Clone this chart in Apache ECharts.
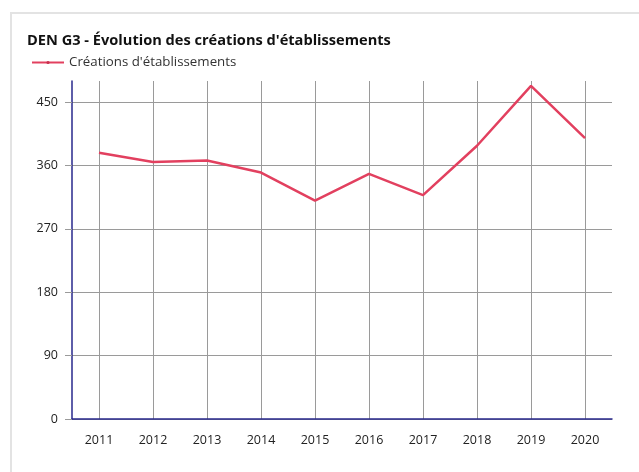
<!DOCTYPE html>
<html>
<head>
<meta charset="utf-8">
<script src="https://cdn.jsdelivr.net/npm/echarts@6/dist/echarts.min.js"></script>
<style>
  html, body { margin: 0; padding: 0; background: #fff; }
  .frame {
    position: absolute; left: 10px; top: 12px; right: -20px; bottom: -20px;
    border: 2px solid #e3e3e3;
  }
  #chart { position: absolute; left: 0; top: 0; width: 639px; height: 472px; }
</style>
</head>
<body>
<div class="frame"></div>
<div id="chart"></div>
<script>
// années
const years = ['2011', '2012', '2013', '2014', '2015', '2016', '2017', '2018', '2019', '2020']
// créations d'établissements
const creations = [378, 365, 367, 350, 310, 348, 318, 388, 473, 399]

const axisColor = '#28288c'
const gridColor = '#9a9a9a'
const font = "'Open Sans', 'Noto Sans', sans-serif"

const chart = echarts.init(document.getElementById('chart'))

const option = {
  animation: false,
  textStyle: { fontFamily: font },
  title: {
    text: "DEN G3 - Évolution des créations d'établissements",
    left: 27,
    top: 33,
    padding: 0,
    textStyle: { fontSize: 14.6, fontWeight: 'bold', color: '#111', fontFamily: font }
  },
  legend: {
    left: 31,
    top: 56,
    padding: 0,
    itemWidth: 32,
    itemHeight: 4,
    itemGap: 7,
    textStyle: { fontSize: 13.3, color: '#333', fontFamily: font },
    data: ["Créations d'établissements"]
  },
  grid: {
    left: 72,
    right: 27,
    top: 81,
    bottom: 53,
    containLabel: false
  },
  xAxis: {
    type: 'category',
    data: years,
    boundaryGap: true,
    axisLine: { lineStyle: { color: axisColor, width: 1.5 } },
    axisTick: { alignWithLabel: true, length: 6, lineStyle: { color: gridColor } },
    axisLabel: { fontSize: 12.5, color: '#222', margin: 15, fontFamily: font },
    splitLine: { show: true, alignWithLabel: true, lineStyle: { color: gridColor, width: 1 } }
  },
  yAxis: {
    type: 'value',
    min: 0,
    max: 480,
    interval: 90,
    axisLine: { show: true, lineStyle: { color: axisColor, width: 1.5 } },
    axisTick: { show: true, length: 7, lineStyle: { color: gridColor } },
    axisLabel: { fontSize: 12.5, color: '#222', margin: 14, showMaxLabel: false, fontFamily: font },
    splitLine: { show: true, showMaxLine: false, lineStyle: { color: gridColor, width: 1 } }
  },
  series: [
    {
      name: "Créations d'établissements",
      type: 'line',
      data: creations,
      showSymbol: false,
      symbol: 'circle',
      symbolSize: 3,
      lineStyle: { color: '#e2405f', width: 2.5 },
      itemStyle: { color: '#c8304f' }
    }
  ]
}

chart.setOption(option)
</script>
</body>
</html>
